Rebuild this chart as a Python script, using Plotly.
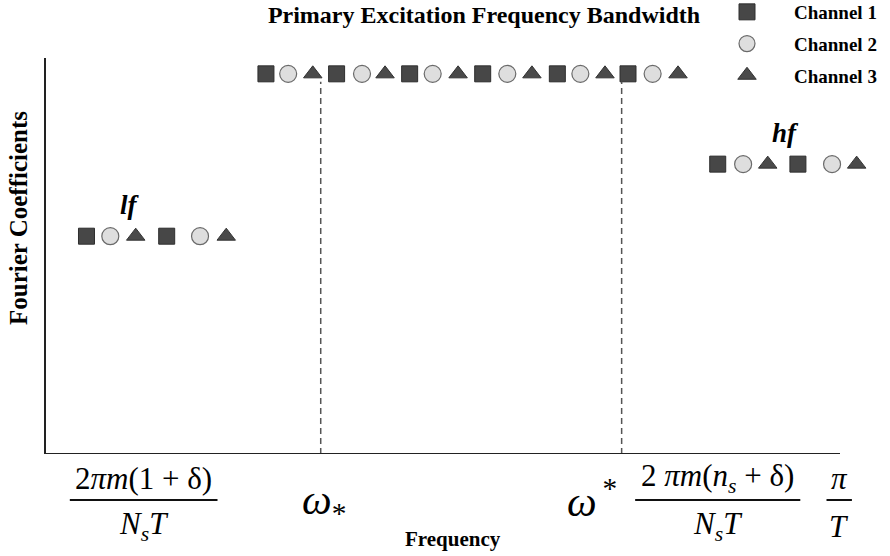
import plotly.graph_objects as go

# ---- data (frequency in arbitrary units 0-100, coefficient amplitude 0-1) ----
channels = ["Channel 1", "Channel 2", "Channel 3"]
lf_freq = {
    "Channel 1": [5.1, 15.2],
    "Channel 2": [8.1, 19.4],
    "Channel 3": [11.3, 22.7],
}
primary_freq = {
    "Channel 1": [27.7, 36.6, 45.8, 55.0, 64.4, 73.3],
    "Channel 2": [30.5, 39.8, 48.7, 58.1, 67.3, 76.4],
    "Channel 3": [33.6, 42.7, 51.9, 61.2, 70.4, 79.6],
}
hf_freq = {
    "Channel 1": [84.6, 94.7],
    "Channel 2": [87.8, 99.0],
    "Channel 3": [90.9, 102.1],
}
lf_level = 0.55
primary_level = 0.96
hf_level = 0.732
band_edges = [34.6, 72.5]      # omega_* and omega^*
band_edge_top = 0.94
freq_axis_end = 100

SERIF = "Liberation Serif, Times New Roman, serif"

styles = {
    "Channel 1": dict(symbol="square", size=16, color="#474747", line=dict(color="#2e2e2e", width=1)),
    "Channel 2": dict(symbol="circle", size=17, color="#dedede", line=dict(color="#6a6a6a", width=1.2)),
    "Channel 3": dict(symbol="triangle-up", size=16, color="#4a4a4a", line=dict(color="#333333", width=1)),
}

# plot-area geometry
W, H = 890, 556
ML, MR, MT, MB = 46, 10, 58, 102
plot_w, plot_h = W - ML - MR, H - MT - MB
px_per_unit = 7.94
x_max = plot_w / px_per_unit


def px_x(p):
    return (p - ML) / plot_w


def px_y(p):
    return (H - MB - p) / plot_h


fig = go.Figure()
for ch in channels:
    xs = lf_freq[ch] + primary_freq[ch] + hf_freq[ch]
    ys = ([lf_level] * len(lf_freq[ch]) + [primary_level] * len(primary_freq[ch])
          + [hf_level] * len(hf_freq[ch]))
    fig.add_trace(go.Scatter(
        x=xs, y=ys, mode="markers", name="<b>%s</b>" % ch, marker=styles[ch],
        cliponaxis=False, legendgroup=ch,
    ))

for xe in band_edges:
    fig.add_shape(type="line", xref="x", yref="y", x0=xe, x1=xe, y0=0, y1=band_edge_top,
                  line=dict(color="#555555", width=1.5, dash="6px,4px"))

# bottom axis line (ends at freq_axis_end)
fig.add_shape(type="line", xref="x", yref="y", x0=0, x1=freq_axis_end, y0=0, y1=0,
              line=dict(color="#222", width=2))

# ---- tick-like formula labels ----
NB = "\u00a0"
TS = "\u2009"
fracs = [
    dict(x=12.3, num="2<i>πm</i>(1" + NB + "+" + NB + "δ)",
         den="<i>N</i><sub><i>s</i></sub><i>T</i>", half=9.3),
    dict(x=84.6, num="2" + NB + "<i>πm</i>(<i>n</i><sub><i>s</i></sub>" + NB + "+" + NB + "δ)",
         den="<i>N</i><sub><i>s</i></sub><i>T</i>", half=10.4),
    dict(x=99.9, num="<i>π</i>", den="<i>T</i>", half=1.6),
]
for f in fracs:
    fig.add_annotation(x=f["x"], y=0, xref="x", yref="paper", text=f["num"], showarrow=False,
                       xanchor="center", yanchor="middle",
                       yshift=-24, font=dict(family=SERIF, size=31, color="#000"))
    fig.add_annotation(x=f["x"], y=0, xref="x", yref="paper", text=f["den"], showarrow=False,
                       xanchor="center", yanchor="middle",
                       yshift=-72, font=dict(family=SERIF, size=31, color="#000"))
    fig.add_shape(type="line", xref="x", yref="paper", ysizemode="pixel", yanchor=0,
                  x0=f["x"] - f["half"], x1=f["x"] + f["half"], y0=-46, y1=-46,
                  line=dict(color="#111", width=2))

fig.add_annotation(x=35.0, y=0, xref="x", yref="paper", text="<i>ω</i><sub>*</sub>", showarrow=False,
                   xanchor="center", yanchor="middle",
                   yshift=-49, font=dict(family=SERIF, size=42, color="#000"))
fig.add_annotation(x=68.8, y=0, xref="x", yref="paper", text="<i>ω</i><sup>" + TS + "*</sup>",
                   showarrow=False, xanchor="center", yanchor="middle",
                   yshift=-44, font=dict(family=SERIF, size=42, color="#000"))

# ---- region labels ----
fig.add_annotation(x=10.6, y=0.629, xref="x", yref="y", text="<b><i>lf</i></b>", showarrow=False,
                   xanchor="center", yanchor="middle",
                   font=dict(family=SERIF, size=27, color="#000"))
fig.add_annotation(x=93.1, y=0.81, xref="x", yref="y", text="<b><i>hf</i></b>", showarrow=False,
                   xanchor="center", yanchor="middle",
                   font=dict(family=SERIF, size=27, color="#000"))

# axis titles
fig.add_annotation(x=px_x(18), y=px_y(218), xref="paper", yref="paper",
                   text="<b>Fourier Coefficients</b>", showarrow=False, textangle=-90,
                   xanchor="center", yanchor="middle",
                   font=dict(family=SERIF, size=25, color="#000"))
fig.add_annotation(x=px_x(453), y=px_y(539), xref="paper", yref="paper", text="<b>Frequency</b>",
                   showarrow=False, xanchor="center", yanchor="middle",
                   font=dict(family=SERIF, size=21, color="#000"))

fig.update_layout(
    width=W, height=H,
    margin=dict(l=ML, r=MR, t=MT, b=MB, autoexpand=False),
    paper_bgcolor="white", plot_bgcolor="white",
    hovermode=False,
    title=dict(text="<b>Primary Excitation Frequency Bandwidth</b>", x=px_x(484), xref="paper",
               xanchor="center", y=1 - 15 / H, yanchor="middle",
               font=dict(family=SERIF, size=24, color="#000")),
    xaxis=dict(range=[0, x_max], showline=False, showgrid=False,
               zeroline=False, showticklabels=False, ticks=""),
    yaxis=dict(range=[0, 1], showline=True, linecolor="#222", linewidth=2, showgrid=False,
               zeroline=False, showticklabels=False, ticks=""),
    showlegend=True,
    legend=dict(x=px_x(700), y=px_y(-7), xanchor="left", yanchor="top", tracegroupgap=4,
                itemwidth=84, font=dict(family=SERIF, size=19, color="#000"),
                bgcolor="rgba(0,0,0,0)"),
)

fig.write_html("out.html", config={"displayModeBar": False},
               post_script="document.body.style.margin='0px';")
